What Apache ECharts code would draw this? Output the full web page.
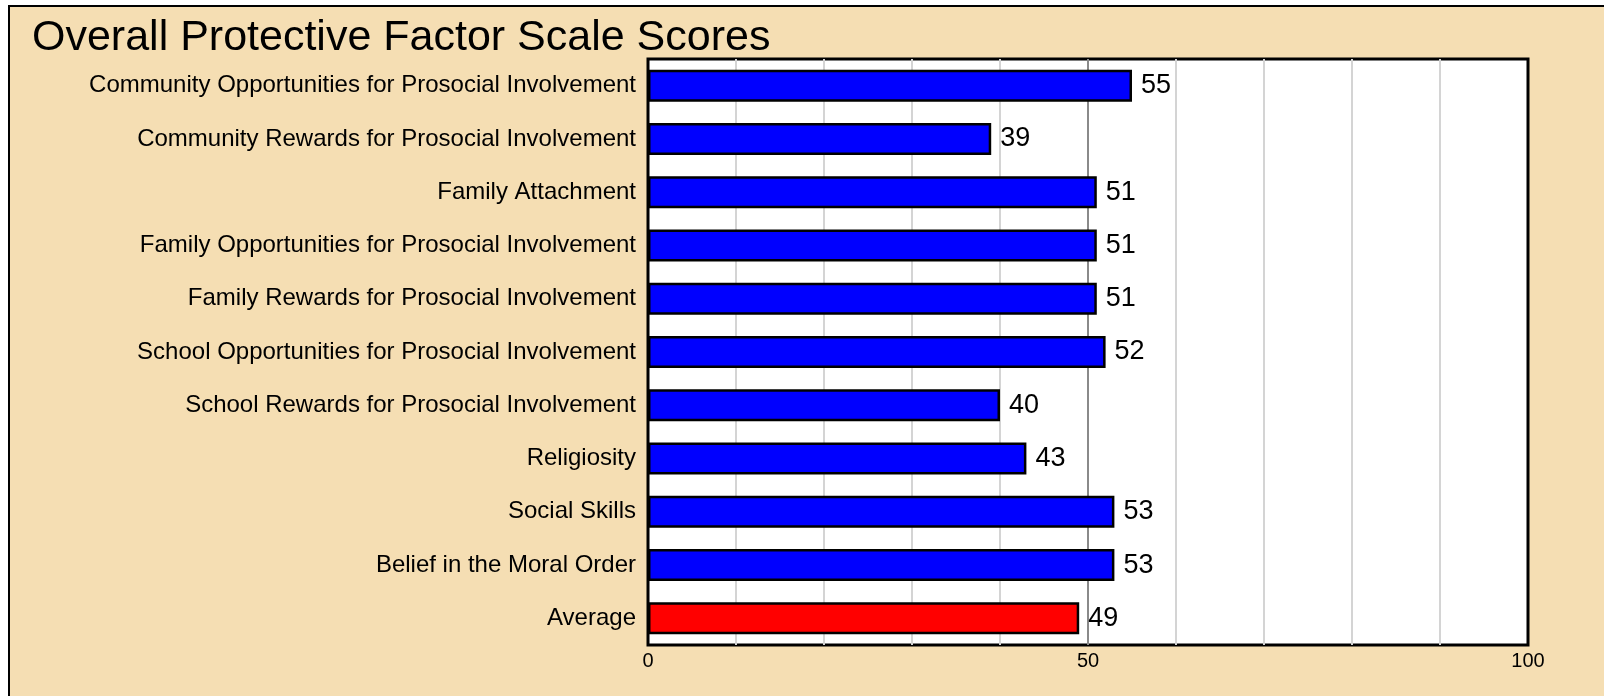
<!DOCTYPE html>
<html>
<head>
<meta charset="utf-8">
<script src="https://cdn.jsdelivr.net/npm/echarts@6/dist/echarts.min.js"></script>
<style>
  html, body { margin: 0; padding: 0; background: #fff; overflow: hidden; }
  .frame {
    position: absolute;
    left: 8px;
    top: 5px;
    width: 1596px;
    height: 691px;
    border-left: 2px solid #000;
    border-top: 2px solid #000;
    box-sizing: border-box;
    background: #f5deb3;
  }
  #chart { width: 100%; height: 100%; }
</style>
</head>
<body>
<div class="frame"><div id="chart"></div></div>
<script>
// scale names, top to bottom
const categories = [
  'Community Opportunities for Prosocial Involvement',
  'Community Rewards for Prosocial Involvement',
  'Family Attachment',
  'Family Opportunities for Prosocial Involvement',
  'Family Rewards for Prosocial Involvement',
  'School Opportunities for Prosocial Involvement',
  'School Rewards for Prosocial Involvement',
  'Religiosity',
  'Social Skills',
  'Belief in the Moral Order',
  'Average'
]
const scores = [55, 39, 51, 51, 51, 52, 40, 43, 53, 53, 49]
const tickLabels = [0, 50, 100]

const font = '"Liberation Sans", Arial, sans-serif'
const chart = echarts.init(document.getElementById('chart'))

// split lines at 10..90 (min/max hidden): light grey, darker at 50
const lineColors = []
for (let t = 10; t < 100; t += 10) lineColors.push(t === 50 ? '#8a8a8a' : '#d4d4d4')

const option = {
  backgroundColor: 'transparent',
  animation: false,
  title: {
    text: 'Overall Protective Factor Scale Scores',
    left: 17,
    top: 5,
    textStyle: { fontFamily: font, fontSize: 43, fontWeight: 'normal', color: '#000' }
  },
  grid: {
    left: 638,
    right: 76,
    top: 52,
    bottom: 51,
    show: true,
    backgroundColor: '#fff',
    borderColor: '#000',
    borderWidth: 3
  },
  xAxis: {
    type: 'value',
    min: 0,
    max: 100,
    interval: 10,
    axisLine: { show: false },
    axisTick: { show: false },
    axisLabel: {
      color: '#000',
      fontFamily: font,
      fontSize: 20,
      margin: 6,
      formatter: v => tickLabels.includes(v) ? String(v) : ''
    },
    splitLine: {
      show: true,
      showMinLine: false,
      showMaxLine: false,
      lineStyle: { color: lineColors, width: 2 }
    }
  },
  yAxis: {
    type: 'category',
    inverse: true,
    data: categories,
    axisLine: { show: false },
    axisTick: { show: false },
    axisLabel: { color: '#000', fontFamily: font, fontSize: 24, margin: 12 }
  },
  series: [{
    type: 'bar',
    barWidth: 32,
    data: scores.map((v, i) => ({
      value: v,
      itemStyle: { color: categories[i] === 'Average' ? '#ff0000' : '#0000ff' }
    })),
    itemStyle: { borderColor: '#000', borderWidth: 2.5 },
    label: {
      show: true,
      position: 'right',
      distance: 9,
      color: '#000',
      fontFamily: font,
      fontSize: 27
    }
  }]
}
chart.setOption(option)
</script>
</body>
</html>
